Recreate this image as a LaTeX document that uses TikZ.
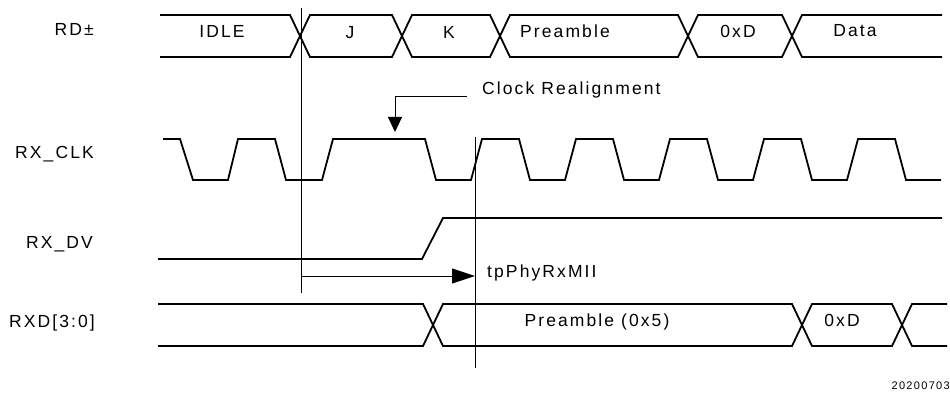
\documentclass[tikz,border=0pt]{standalone}
\usepackage{fontspec}
\setmainfont[LetterSpace=12]{Liberation Sans}
\usetikzlibrary{arrows.meta}
\tikzset{
	sig/.style={line width=1.8pt, line join=miter},
	guide/.style={line width=0.9pt},
	txt/.style={font=\fontsize{17.5}{20}\selectfont, inner sep=0pt},
}
\begin{document}
\begin{tikzpicture}[x=1pt,y=-1pt]
	\useasboundingbox (0,0) rectangle (950,393);
	% signal names
	\node[txt, anchor=base east] at (94,36) (rdname) {RD±};
	\node[txt, anchor=base east] at (94,158) (clkname) {RX\_CLK};
	\node[txt, anchor=base east] at (93,248) (dvname) {RX\_DV};
	\node[txt, anchor=base east] at (95,327) (rxdname) {RXD[3:0]};
	% RD+- bus
	\draw[sig] (160,15) -- (290,15) -- (310,57) -- (392,57) -- (412,15) -- (490,15) -- (510,57) -- (678,57) -- (698,15) -- (782,15) -- (802,57) -- (942,57);
	\draw[sig] (160,57) -- (290,57) -- (310,15) -- (392,15) -- (412,57) -- (490,57) -- (510,15) -- (678,15) -- (698,57) -- (782,57) -- (802,15) -- (942,15);
	\node[txt, anchor=base] at (222,38) (idle) {IDLE};
	\node[txt, anchor=base] at (350,39) (j) {J};
	\node[txt, anchor=base] at (449,39) (k) {K};
	\node[txt, anchor=base] at (565,38) (pre) {Preamble};
	\node[txt, anchor=base] at (738,38) (sfd) {0xD};
	\node[txt, anchor=base] at (855,37) (data) {Data};
	% RX_CLK
	\draw[sig] (163,139) -- (180,139) -- (193,180) -- (228,180) -- (238,139) -- (275,139) -- (286,180) -- (322,180) -- (333,139) -- (425,139) -- (436,180) -- (471,180)
	\foreach \p in {1,...,5} { -- ++(11,-41) -- ++(37,0) -- ++(11,41) -- ++(35,0) };
	% RX_DV
	\draw[sig] (158,259) -- (422,259) -- (443,218) -- (942,218);
	% RXD[3:0]
	\draw[sig] (158,304) -- (423,304) -- (443,346) -- (792,346) -- (812,304) -- (892,304) -- (912,346) -- (947,346);
	\draw[sig] (158,346) -- (423,346) -- (443,304) -- (792,304) -- (812,346) -- (892,346) -- (912,304) -- (947,304);
	\node[txt, anchor=base] at (597,326) (pre5) {Preamble (0x5)};
	\node[txt, anchor=base] at (842,326) (sfd2) {0xD};
	% markers
	\coordinate (ttop) at (301,8);
	\coordinate (tbot) at (301,293);
	\coordinate (rtop) at (475,137);
	\coordinate (rbot) at (475,368);
	\draw[guide] (ttop) -- (tbot);
	\draw[guide] (rtop) -- (rbot);
	\coordinate (ta) at (301,276);
	\coordinate (tb) at (475,276);
	\draw[guide, -{Triangle[length=23pt, width=15pt]}] (ta) -- (tb);
	\node[txt, anchor=base west] at (487,277) (tphy) {tpPhyRxMII};
	% clock realignment
	\node[txt, anchor=base west] at (482,95) (realign) {Clock Realignment};
	\coordinate (ca) at (467,96);
	\coordinate (cb) at (395,132);
	\draw[guide, -{Triangle[length=15pt, width=14pt]}] (ca) -| (cb);
	\node[font=\fontsize{11}{13}\selectfont, inner sep=0pt, anchor=base east] at (950,389) (fig) {20200703};
\end{tikzpicture}
\end{document}
